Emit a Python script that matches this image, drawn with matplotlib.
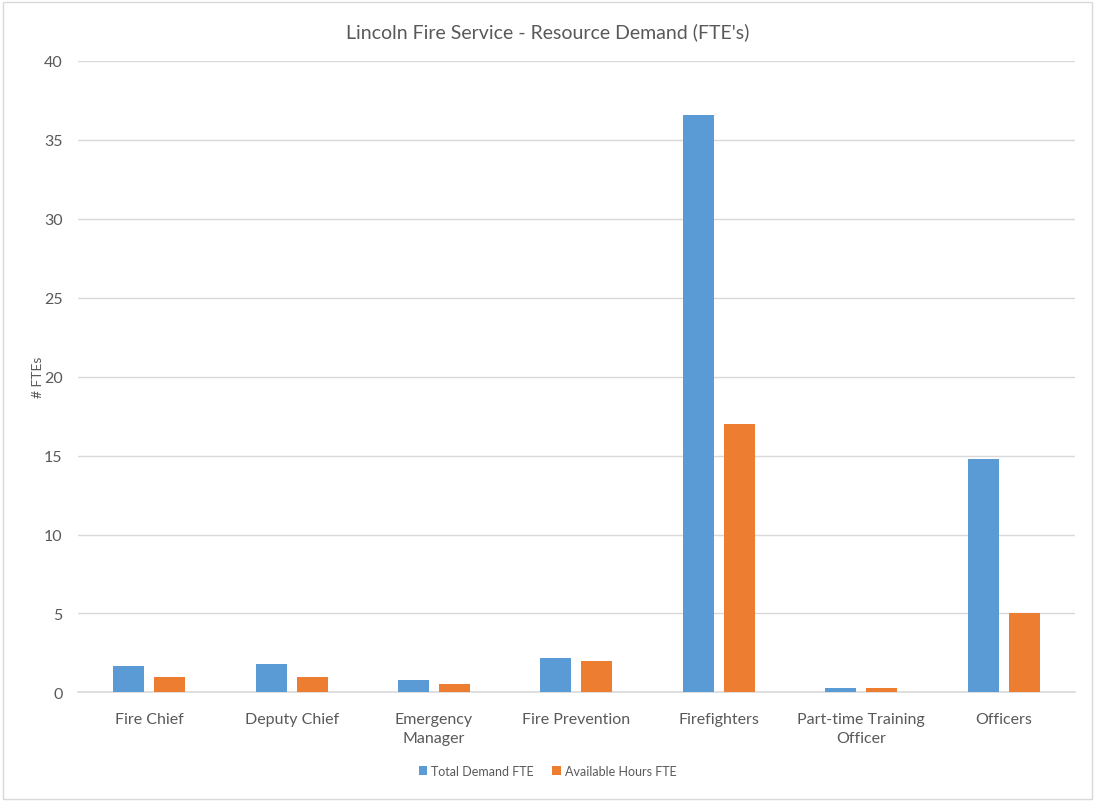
import matplotlib.pyplot as plt
import numpy as np
from matplotlib.patches import Rectangle

categories = ['Fire Chief', 'Deputy Chief', 'Emergency\nManager', 'Fire Prevention',
              'Firefighters', 'Part-time Training\nOfficer', 'Officers']
total_demand = [1.7, 1.8, 0.8, 2.2, 36.6, 0.3, 14.8]
available_hours = [1.0, 1.0, 0.5, 2.0, 17.0, 0.25, 5.0]

blue = '#5b9bd5'
orange = '#ed7d31'
text_col = '#595959'

plt.rcParams['font.family'] = ['Lato', 'DejaVu Sans']

fig = plt.figure(figsize=(10.95, 8.03), dpi=100)
ax = fig.add_axes([0.0712, 0.1365, 0.9105, 0.7865])

x = np.arange(len(categories))
w = 0.218
off = 0.144
ax.bar(x - off, total_demand, w, color=blue, label='Total Demand FTE', zorder=3)
ax.bar(x + off, available_hours, w, color=orange, label='Available Hours FTE', zorder=3)

ax.set_xlim(-0.5, len(categories) - 0.5)
ax.set_ylim(0, 40)
ax.set_yticks(range(0, 41, 5))
ax.yaxis.grid(True, color='#d9d9d9', linewidth=1, zorder=0)
ax.set_axisbelow(True)
for s in ['top', 'right', 'left']:
    ax.spines[s].set_visible(False)
ax.spines['bottom'].set_color('#d9d9d9')
ax.spines['bottom'].set_linewidth(1.2)
ax.tick_params(axis='both', length=0, colors=text_col, labelsize=11.5)
ax.tick_params(axis='x', pad=14)
ax.tick_params(axis='y', pad=11)
ax.set_xticks(x)
ax.set_xticklabels(categories, linespacing=1.45)

ax.set_ylabel('# FTEs', color=text_col, fontsize=10, labelpad=0)
fig.text(0.5, 0.96, "Lincoln Fire Service - Resource Demand (FTE's)", ha='center', va='center',
         fontsize=14, color=text_col)

ax.legend(loc='center', bbox_to_anchor=(0.5, 0.039), bbox_transform=fig.transFigure, ncol=2,
          frameon=False, fontsize=9, labelcolor=text_col, handlelength=0.7, handleheight=0.7,
          columnspacing=1.5, handletextpad=0.3)

fig.patches.append(Rectangle((0.003, 0.004), 0.994, 0.992, transform=fig.transFigure,
                             fill=False, edgecolor='#d9d9d9', linewidth=1))

fig.savefig('out.png', dpi=100)
